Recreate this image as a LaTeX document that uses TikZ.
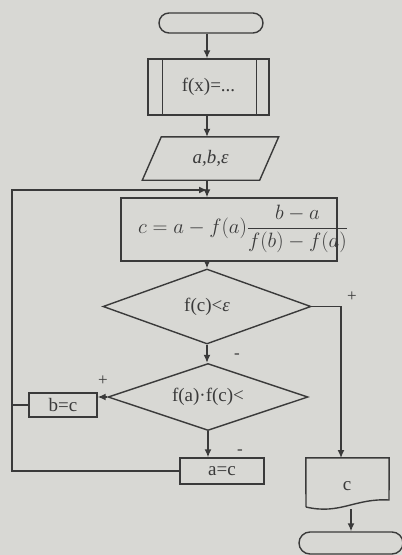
\documentclass[tikz,border=0pt]{standalone}
\usepackage{fontspec}
\setmainfont{Liberation Serif}
\usetikzlibrary{arrows.meta,shapes.geometric}
\definecolor{paper}{RGB}{216,216,212}
\definecolor{ink}{RGB}{58,58,58}
\begin{document}
\begin{tikzpicture}[x=1pt,y=-1pt,
  box/.style={draw=ink, line width=1.4pt, rectangle, inner sep=0pt},
  ln/.style={draw=ink, line width=1.4pt},
  arr/.style={draw=ink, line width=1.4pt, -{Latex[length=8pt,width=7pt]}},
  txt/.style={text=ink, font=\fontsize{19}{22}\selectfont},
  decision/.style={draw=ink, line width=1.4pt, diamond, aspect=3, inner sep=0pt},
  sign/.style={text=ink, font=\fontsize{17}{19}\selectfont, inner sep=0pt}]
\fill[paper] (0,0) rectangle (402,555);
\useasboundingbox (0,0) rectangle (402,555);
\coordinate (sp) at (207,0);
\coordinate (lp) at (12,190);
% nodes
\node[box, rounded corners=10pt, minimum width=104pt, minimum height=20pt] (start) at (211,23) {};
\node[box, txt, minimum width=121pt, minimum height=56pt] (func) at (208.5,87) {f(x)=...};
\draw[ln] ([xshift=15pt]func.north west) -- ([xshift=15pt]func.south west);
\draw[ln] ([xshift=-13pt]func.north east) -- ([xshift=-13pt]func.south east);
\node[txt, inner sep=0pt, minimum width=117pt, minimum height=43pt] (inp) at (210.5,158.5) {\itshape a,b,ε};
\draw[ln] ([xshift=9.5pt]inp.north west) -- ([xshift=9.5pt]inp.north east)
  -- ([xshift=-9.5pt]inp.south east) -- ([xshift=-9.5pt]inp.south west) -- cycle;
\node[box, minimum width=216pt, minimum height=63pt] (proc) at (229,229.5) {};
\node[text=ink, font=\fontsize{22}{26}\selectfont] (formula) at (243,229) {$c=a-f(a)\displaystyle\frac{b-a}{f(b)-f(a)}$};
\node[decision, txt, minimum width=208pt, minimum height=75pt] (d1) at (207,306.5) {f(c)<\textit{ε}};
\node[decision, txt, minimum width=200pt, minimum height=67pt] (d2) at (208,397) {f(a)·f(c)<};
\node[box, txt, minimum width=68pt, minimum height=24pt] (bc) at (63,405) {b=c};
\node[box, txt, minimum width=84pt, minimum height=26pt] (ac) at (222,471) {a=c};
\node[inner sep=0pt, minimum width=83pt, minimum height=44pt] (out) at (347.5,480) {};
\node[txt] (outtxt) at (347,486) {c};
\draw[ln] (306,507) -- (out.north west) -- (out.north east) -- (389,500)
  .. controls (355,498) and (340,515) .. (306,507);
\coordinate (outb) at (351,509);
\coordinate (outt) at (341,458);
\node[box, rounded corners=11pt, minimum width=104pt, minimum height=22pt] (end) at (351,543) {};
% connectors
\draw[arr] (sp |- start.south) -- (sp |- func.north);
\draw[arr] (sp |- func.south) -- (sp |- inp.north);
\draw[arr] (sp |- inp.south) -- (sp |- proc.north);
\draw[arr] (sp |- proc.south) -- (sp |- d1.north);
\draw[arr] (sp |- d1.south) -- (sp |- d2.north);
\draw[arr] (d2.south) -- (d2.south |- ac.north);
\draw[arr] (d2.west) -- (d2.west -| bc.east);
\draw[ln] (bc.west) -- (bc.west -| lp);
\draw[arr] (ac.west) -- (ac.west -| lp) -- (lp) -- (lp -| sp);
\draw[arr] (d1.east) -| (outt);
\draw[arr] (outb) -- (end.north);
% labels
\node[sign] at (352,297) {+};
\node[sign] at (237,356) {-};
\node[sign] at (103,381) {+};
\node[sign] at (240,452) {-};
\end{tikzpicture}
\end{document}
